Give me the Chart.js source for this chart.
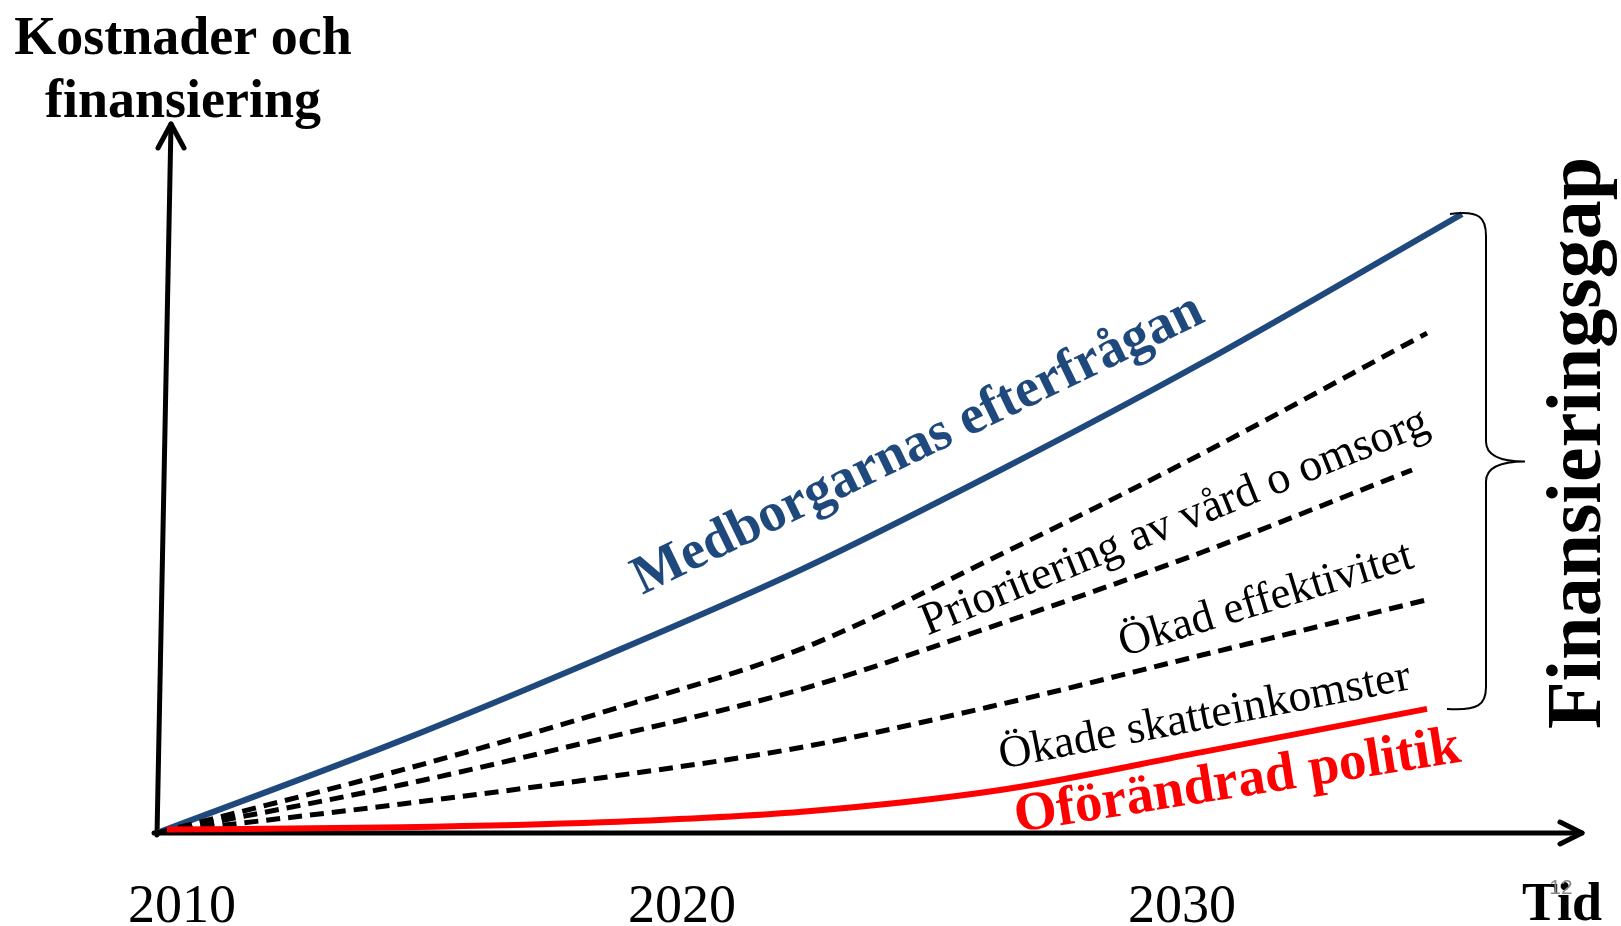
<!DOCTYPE html>
<html>
<head>
<meta charset="utf-8">
<script src="https://cdn.jsdelivr.net/npm/chart.js@4/dist/chart.umd.min.js"></script>
<style>
  html, body { margin: 0; padding: 0; background: #fff; }
  #wrap { width: 1621px; height: 926px; }
</style>
</head>
<body>
<div id="wrap"><canvas id="chart"></canvas></div>
<script>
const tickYears = [2010, 2020, 2030];

const demandYears = [2009.5, 2014.4, 2018.4, 2022.4, 2026.4, 2030.4, 2035.6];
const demand      = [0, 13.1, 24.8, 37.2, 51.3, 66.3, 87.3];

const careYears = [2009.5, 2014.4, 2018.4, 2022.4, 2026.4, 2030.4, 2034.9];
const care      = [0, 8.9, 17.0, 26.0, 39.4, 53.5, 70.5];

const effYears   = [2009.5, 2014.4, 2018.4, 2022.4, 2026.4, 2030.4, 2034.6];
const efficiency = [0, 6.8, 13.3, 20.3, 29.6, 39.6, 51.2];

const taxYears = [2009.5, 2014.4, 2018.4, 2022.4, 2026.4, 2030.4, 2034.9];
const tax      = [0, 4.1, 7.8, 12.1, 18.2, 25.1, 32.9];

const policyYears = [2009.7, 2014.4, 2018.4, 2022.4, 2026.4, 2030.4, 2034.9];
const policy      = [0.5, 0.8, 1.5, 3.0, 6.1, 11.4, 17.5];

const SERIF = '"Liberation Serif", "Times New Roman", serif';
const BLUE = '#1F497D';
const RED = '#FF0000';

// labels along the curves, placed in data units
const curveLabels = [
  { text: 'Medborgarnas efterfrågan', x: 2024.85, y: 52.9, angle: -25.9, font: 'bold 55px ' + SERIF, color: BLUE },
  { text: 'Prioritering av vård o omsorg', x: 2029.95, y: 42.2, angle: -22, font: '46px ' + SERIF, color: '#000' },
  { text: 'Ökad effektivitet', x: 2031.75, y: 31.2, angle: -17, font: '45px ' + SERIF, color: '#000' },
  { text: 'Ökade skatteinkomster', x: 2030.5, y: 14.7, angle: -11, font: '45.5px ' + SERIF, color: '#000' },
  { text: 'Oförändrad politik', x: 2031.15, y: 5.1, angle: -9, font: 'bold 55px ' + SERIF, color: RED }
];

function pts(xs, ys) {
  return xs.map((x, i) => ({ x: x, y: ys[i] }));
}

const decor = {
  id: 'decor',
  beforeDatasetsDraw(chart) {
    const ctx = chart.ctx, a = chart.chartArea;
    ctx.save();
    ctx.strokeStyle = '#000';
    ctx.lineWidth = 5;
    ctx.lineCap = 'round';
    ctx.lineJoin = 'round';
    // y axis (slightly leaning) with arrow
    const tx = a.left + 14, ty = a.top;
    ctx.beginPath();
    ctx.moveTo(a.left, a.bottom + 2);
    ctx.lineTo(tx, ty);
    ctx.stroke();
    ctx.beginPath();
    ctx.moveTo(tx - 13, ty + 24);
    ctx.lineTo(tx, ty);
    ctx.lineTo(tx + 13, ty + 24);
    ctx.stroke();
    // x axis with arrow
    ctx.beginPath();
    ctx.moveTo(a.left - 3, a.bottom);
    ctx.lineTo(a.right, a.bottom);
    ctx.stroke();
    ctx.beginPath();
    ctx.moveTo(a.right - 22, a.bottom - 11);
    ctx.lineTo(a.right, a.bottom);
    ctx.lineTo(a.right - 22, a.bottom + 11);
    ctx.stroke();
    ctx.restore();
  },
  afterDatasetsDraw(chart) {
    const ctx = chart.ctx, a = chart.chartArea;
    const xs = chart.scales.x, ys = chart.scales.y;
    ctx.save();

    // curve labels
    curveLabels.forEach(l => {
      ctx.save();
      ctx.translate(xs.getPixelForValue(l.x), ys.getPixelForValue(l.y));
      ctx.rotate(l.angle * Math.PI / 180);
      ctx.font = l.font;
      ctx.fillStyle = l.color;
      ctx.textAlign = 'center';
      ctx.textBaseline = 'alphabetic';
      ctx.fillText(l.text, 0, 0);
      ctx.restore();
    });

    // year labels
    ctx.font = '54px ' + SERIF;
    ctx.fillStyle = '#000';
    ctx.textAlign = 'center';
    tickYears.forEach(t => ctx.fillText(String(t), xs.getPixelForValue(t), a.bottom + 89));

    // axis titles
    ctx.font = 'bold 54px ' + SERIF;
    ctx.fillText('Kostnader och', 183, 54);
    ctx.fillText('finansiering', 183, 117);
    ctx.textAlign = 'left';
    ctx.fillText('Tid', 1522, 920);

    // slide number
    ctx.font = '21px "Liberation Sans", Arial, sans-serif';
    ctx.fillStyle = '#8a8a8a';
    ctx.textAlign = 'center';
    ctx.fillText('12', 1561, 894);

    // brace between demand and unchanged policy
    const top = ys.getPixelForValue(demand[demand.length - 1]);
    const bot = ys.getPixelForValue(policy[policy.length - 1]);
    const mid = (top + bot) / 2;
    const vx = 1486, tip = 1525;
    ctx.strokeStyle = '#000';
    ctx.lineWidth = 2;
    ctx.beginPath();
    ctx.moveTo(1450, top);
    ctx.bezierCurveTo(1480, top - 4, vx, top + 4, vx, top + 22);
    ctx.lineTo(vx, mid - 20);
    ctx.bezierCurveTo(vx, mid - 4, tip - 20, mid, tip, mid);
    ctx.bezierCurveTo(tip - 20, mid, vx, mid + 4, vx, mid + 20);
    ctx.lineTo(vx, bot - 22);
    ctx.bezierCurveTo(vx, bot - 4, 1478, bot + 2, 1447, bot);
    ctx.stroke();

    // vertical title
    ctx.save();
    ctx.translate(1600, 443);
    ctx.rotate(-Math.PI / 2);
    ctx.font = 'bold 78px ' + SERIF;
    ctx.fillStyle = '#000';
    ctx.textAlign = 'center';
    ctx.textBaseline = 'alphabetic';
    ctx.fillText('Finansieringsgap', 0, 0);
    ctx.restore();

    ctx.restore();
  }
};

const dash = [14, 8];

new Chart(document.getElementById('chart'), {
  type: 'line',
  data: {
    datasets: [
      { label: 'Oförändrad politik', data: pts(policyYears, policy), borderColor: RED, borderWidth: 6 },
      { label: 'Ökade skatteinkomster', data: pts(taxYears, tax), borderColor: '#000', borderWidth: 5, borderDash: dash },
      { label: 'Ökad effektivitet', data: pts(effYears, efficiency), borderColor: '#000', borderWidth: 5, borderDash: dash },
      { label: 'Prioritering av vård o omsorg', data: pts(careYears, care), borderColor: '#000', borderWidth: 5, borderDash: dash },
      { label: 'Medborgarnas efterfrågan', data: pts(demandYears, demand), borderColor: BLUE, borderWidth: 6 }
    ]
  },
  options: {
    responsive: true,
    maintainAspectRatio: false,
    devicePixelRatio: 1,
    animation: false,
    layout: { padding: { left: 157, right: 39, top: 124, bottom: 93 } },
    elements: {
      point: { radius: 0 },
      line: { cubicInterpolationMode: 'monotone', fill: false, borderCapStyle: 'butt' }
    },
    datasets: { line: { clip: false } },
    scales: {
      x: { type: 'linear', min: 2009.5, max: 2038, display: false },
      y: { min: 0, max: 100, display: false }
    },
    plugins: { legend: { display: false }, tooltip: { enabled: false } }
  },
  plugins: [decor]
});
</script>
</body>
</html>
